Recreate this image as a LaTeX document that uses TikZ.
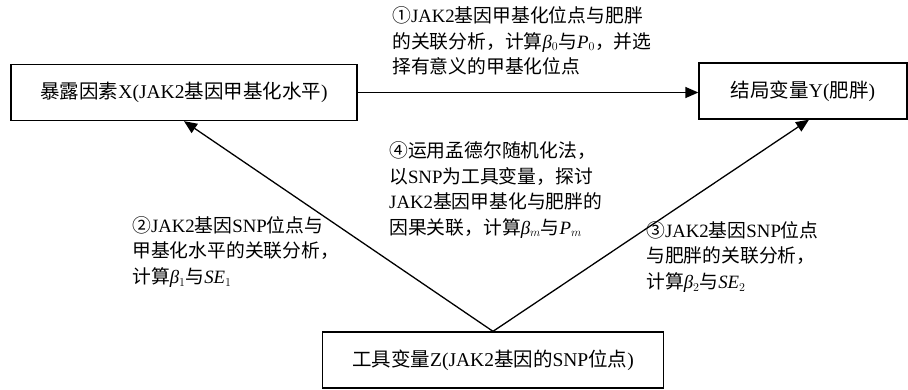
\documentclass[tikz,border=0pt]{standalone}
\usepackage{fontspec}
\setmainfont{Liberation Serif}
\newfontfamily\cjk{Noto Sans CJK SC}
\usetikzlibrary{arrows.meta}
\newcommand{\vsub}[2]{\textit{#1}$_{#2}$}
\begin{document}
\begin{tikzpicture}[x=1pt,y=-1pt,
 box/.style={draw, line width=1.3pt, minimum width=#1, minimum height=56pt, inner sep=0pt, font=\fontsize{19.5}{24}\selectfont},
 lbl/.style={align=left, anchor=west, inner sep=0pt, font=\fontsize{18.8}{25.5}\selectfont},
 arr/.style={line width=1.3pt, -{Triangle[length=13pt,width=11pt]}}]
\useasboundingbox (0,0) rectangle (908,389);
\node[box=346pt] (X) at (184,92.5) {{\cjk 暴露因素}X(JAK2{\cjk 基因甲基化水平})};
\node[box=208pt] (Y) at (803,91) {{\cjk 结局变量}Y({\cjk 肥胖})};
\node[box=341pt] (Z) at (493,360) {{\cjk 工具变量}Z(JAK2{\cjk 基因的}SNP{\cjk 位点})};
\draw[arr] (X.east) -- (X.east -| Y.west);
\draw[arr] (Z.north) -- (X.south);
\draw[arr] (Z.north) -- ([xshift=6pt]Y.south);
\node[lbl] (l1) at (392,41) {{\cjk ①}JAK2{\cjk 基因甲基化位点与肥胖}\\{\cjk 的关联分析，计算}\vsub{β}{0}{\cjk 与}\vsub{P}{0}{\cjk ，并选}\\{\cjk 择有意义的甲基化位点}};
\node[lbl] (l4) at (389,190) {{\cjk ④运用孟德尔随机化法，}\\{\cjk 以}SNP{\cjk 为工具变量，探讨}\\JAK2{\cjk 基因甲基化与肥胖的}\\{\cjk 因果关联，计算}\vsub{β}{m}{\cjk 与}\vsub{P}{m}};
\node[lbl] (l2) at (132,252) {{\cjk ②}JAK2{\cjk 基因}SNP{\cjk 位点与}\\{\cjk 甲基化水平的关联分析，}\\{\cjk 计算}\vsub{β}{1}{\cjk 与}\vsub{SE}{1}};
\node[lbl] (l3) at (646,257) {{\cjk ③}JAK2{\cjk 基因}SNP{\cjk 位点}\\{\cjk 与肥胖的关联分析，}\\{\cjk 计算}\vsub{β}{2}{\cjk 与}\vsub{SE}{2}};
\end{tikzpicture}
\end{document}
